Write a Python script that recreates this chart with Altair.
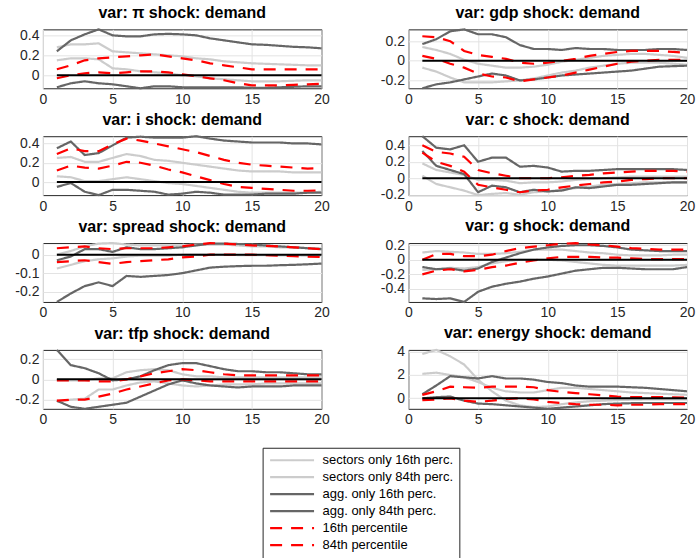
import altair as alt
import pandas as pd

x_vals = list(range(1, 21))

series_names = [
    "sectors only 16th perc.",
    "sectors only 84th perc.",
    "agg. only 16th perc.",
    "agg. only 84th perc.",
    "16th percentile",
    "84th percentile",
]
series_colors = ["#cccccc", "#cccccc", "#666666", "#666666", "#ff0000", "#ff0000"]
series_dash = [[1, 0], [1, 0], [1, 0], [1, 0], [12, 9], [12, 9]]
series_width = [2.2, 2.2, 2.2, 2.2, 2.6, 2.6]

titles = [
    "var: π shock: demand",
    "var: gdp shock: demand",
    "var: i shock: demand",
    "var: c shock: demand",
    "var: spread shock: demand",
    "var: g shock: demand",
    "var: tfp shock: demand",
    "var: energy shock: demand",
]
x_ticks = [0, 5, 10, 15, 20]
y_ticks = [
    [0, 0.2, 0.4],
    [-0.2, 0, 0.2],
    [0, 0.2, 0.4],
    [-0.2, 0, 0.2, 0.4],
    [-0.2, -0.1, 0],
    [-0.4, -0.2, 0, 0.2],
    [-0.2, 0, 0.2],
    [0, 2, 4],
]

# ---- pi ----
pi_sec16 = [0.15, 0.17, 0.17, 0.16, 0.07, 0.06, 0.04, 0.03, 0.02, 0.00, -0.01, -0.03, -0.04, -0.05, -0.06, -0.06, -0.06, -0.055, -0.05, -0.05]
pi_sec84 = [0.28, 0.31, 0.31, 0.32, 0.24, 0.23, 0.22, 0.21, 0.20, 0.19, 0.17, 0.16, 0.14, 0.13, 0.12, 0.115, 0.11, 0.105, 0.10, 0.10]
pi_agg16 = [-0.12, -0.08, -0.06, -0.08, -0.09, -0.11, -0.13, -0.11, -0.11, -0.12, -0.12, -0.12, -0.12, -0.12, -0.125, -0.125, -0.12, -0.115, -0.11, -0.11]
pi_agg84 = [0.24, 0.35, 0.41, 0.46, 0.40, 0.39, 0.39, 0.41, 0.415, 0.41, 0.40, 0.37, 0.35, 0.33, 0.31, 0.305, 0.295, 0.285, 0.28, 0.27]
pi_p16 = [-0.03, 0.00, 0.02, 0.03, 0.02, 0.03, 0.04, 0.04, 0.03, 0.01, -0.01, -0.03, -0.05, -0.08, -0.10, -0.10, -0.10, -0.095, -0.09, -0.085]
pi_p84 = [0.06, 0.10, 0.15, 0.17, 0.18, 0.19, 0.20, 0.21, 0.19, 0.17, 0.15, 0.12, 0.10, 0.08, 0.06, 0.06, 0.06, 0.06, 0.06, 0.06]

# ---- gdp ----
gdp_sec16 = [-0.07, -0.11, -0.17, -0.22, -0.22, -0.22, -0.21, -0.20, -0.18, -0.15, -0.12, -0.10, -0.07, -0.05, -0.03, -0.02, -0.02, -0.02, -0.03, -0.04]
gdp_sec84 = [0.14, 0.11, 0.07, 0.01, -0.03, -0.05, -0.07, -0.07, -0.06, -0.04, -0.01, 0.01, 0.03, 0.05, 0.06, 0.07, 0.07, 0.06, 0.05, 0.03]
gdp_agg16 = [-0.28, -0.24, -0.22, -0.19, -0.16, -0.13, -0.15, -0.20, -0.19, -0.17, -0.15, -0.14, -0.13, -0.12, -0.11, -0.10, -0.08, -0.06, -0.055, -0.05]
gdp_agg84 = [0.17, 0.22, 0.30, 0.32, 0.27, 0.27, 0.24, 0.16, 0.12, 0.12, 0.11, 0.13, 0.12, 0.12, 0.11, 0.11, 0.11, 0.12, 0.12, 0.11]
gdp_p16 = [0.05, 0.02, -0.03, -0.07, -0.13, -0.16, -0.17, -0.21, -0.19, -0.17, -0.15, -0.12, -0.09, -0.06, -0.03, -0.01, 0.00, 0.01, 0.01, 0.01]
gdp_p84 = [0.25, 0.24, 0.20, 0.10, 0.06, 0.04, 0.02, -0.02, -0.03, -0.02, 0.00, 0.02, 0.05, 0.07, 0.09, 0.10, 0.10, 0.10, 0.09, 0.08]

# ---- i ----
i_sec16 = [0.06, 0.05, 0.01, 0.01, 0.03, 0.05, 0.03, 0.01, -0.01, -0.02, -0.04, -0.06, -0.08, -0.10, -0.11, -0.11, -0.11, -0.11, -0.11, -0.10]
i_sec84 = [0.25, 0.26, 0.21, 0.21, 0.25, 0.29, 0.27, 0.23, 0.22, 0.20, 0.18, 0.16, 0.14, 0.12, 0.11, 0.11, 0.11, 0.10, 0.10, 0.10]
i_agg16 = [-0.05, -0.01, -0.10, -0.135, -0.08, -0.08, -0.09, -0.10, -0.13, -0.12, -0.10, -0.11, -0.13, -0.13, -0.13, -0.12, -0.12, -0.12, -0.11, -0.11]
i_agg84 = [0.35, 0.42, 0.28, 0.30, 0.38, 0.46, 0.47, 0.46, 0.46, 0.46, 0.475, 0.45, 0.43, 0.42, 0.41, 0.41, 0.41, 0.40, 0.40, 0.39]
i_p16 = [0.12, 0.17, 0.15, 0.14, 0.17, 0.21, 0.20, 0.17, 0.13, 0.10, 0.06, 0.02, -0.02, -0.05, -0.06, -0.07, -0.08, -0.09, -0.09, -0.085]
i_p84 = [0.29, 0.35, 0.32, 0.32, 0.39, 0.45, 0.43, 0.40, 0.37, 0.34, 0.31, 0.27, 0.23, 0.20, 0.18, 0.17, 0.16, 0.15, 0.14, 0.145]

# ---- c ----
c_sec16 = [0.03, -0.07, -0.11, -0.15, -0.205, -0.19, -0.18, -0.20, -0.17, -0.16, -0.14, -0.12, -0.10, -0.08, -0.07, -0.06, -0.05, -0.05, -0.05, -0.05]
c_sec84 = [0.18, 0.10, 0.07, 0.04, -0.02, -0.02, -0.03, -0.06, -0.05, -0.05, -0.04, -0.02, -0.01, 0.00, 0.01, 0.02, 0.02, 0.02, 0.02, 0.02]
c_agg16 = [0.33, 0.15, 0.10, 0.05, -0.17, -0.09, -0.11, -0.17, -0.14, -0.16, -0.15, -0.11, -0.12, -0.10, -0.08, -0.08, -0.07, -0.06, -0.05, -0.05]
c_agg84 = [0.51, 0.37, 0.35, 0.40, 0.20, 0.25, 0.25, 0.14, 0.15, 0.13, 0.08, 0.09, 0.09, 0.10, 0.11, 0.11, 0.11, 0.11, 0.11, 0.10]
c_p16 = [0.31, 0.20, 0.15, 0.08, -0.08, -0.11, -0.14, -0.17, -0.15, -0.14, -0.11, -0.09, -0.07, -0.05, -0.04, -0.02, -0.01, 0.00, 0.00, 0.00]
c_p84 = [0.40, 0.32, 0.30, 0.26, 0.10, 0.06, 0.03, 0.00, 0.00, 0.00, 0.01, 0.03, 0.04, 0.06, 0.07, 0.08, 0.09, 0.09, 0.09, 0.08]

# ---- spread ----
sp_sec16 = [-0.075, -0.055, -0.035, -0.025, -0.02, -0.01, -0.005, -0.005, -0.005, 0.0, 0.0, 0.0, 0.0, -0.002, -0.003, -0.003, -0.004, -0.004, -0.005, -0.005]
sp_sec84 = [0.0, 0.02, 0.045, 0.06, 0.063, 0.055, 0.05, 0.05, 0.05, 0.05, 0.055, 0.055, 0.055, 0.05, 0.045, 0.045, 0.04, 0.04, 0.035, 0.035]
sp_agg16 = [-0.256, -0.21, -0.17, -0.15, -0.17, -0.115, -0.12, -0.115, -0.11, -0.10, -0.085, -0.07, -0.065, -0.062, -0.06, -0.06, -0.057, -0.055, -0.052, -0.048]
sp_agg84 = [-0.03, -0.01, 0.03, 0.03, 0.015, 0.04, 0.03, 0.03, 0.035, 0.04, 0.05, 0.06, 0.06, 0.058, 0.055, 0.05, 0.045, 0.04, 0.035, 0.03]
sp_p16 = [-0.04, -0.035, -0.03, -0.04, -0.05, -0.04, -0.035, -0.03, -0.025, -0.015, -0.01, 0.0, 0.0, 0.0, 0.0, -0.003, -0.005, -0.008, -0.01, -0.013]
sp_p84 = [0.035, 0.04, 0.045, 0.035, 0.03, 0.035, 0.035, 0.035, 0.04, 0.045, 0.055, 0.063, 0.06, 0.055, 0.05, 0.048, 0.045, 0.04, 0.035, 0.03]

# ---- g ----
g_sec16 = [-0.14, -0.13, -0.11, -0.12, -0.10, -0.05, -0.02, 0.00, 0.00, 0.00, -0.01, -0.03, -0.05, -0.07, -0.08, -0.08, -0.08, -0.08, -0.08, -0.07]
g_sec84 = [0.10, 0.12, 0.11, 0.10, 0.08, 0.08, 0.09, 0.11, 0.14, 0.14, 0.14, 0.12, 0.10, 0.09, 0.07, 0.06, 0.06, 0.06, 0.07, 0.07]
g_agg16 = [-0.53, -0.54, -0.53, -0.58, -0.44, -0.37, -0.33, -0.30, -0.26, -0.23, -0.19, -0.15, -0.13, -0.11, -0.11, -0.12, -0.13, -0.13, -0.13, -0.10]
g_agg84 = [-0.10, -0.13, -0.12, -0.15, -0.12, -0.03, 0.03, 0.09, 0.14, 0.17, 0.19, 0.20, 0.20, 0.19, 0.17, 0.14, 0.13, 0.12, 0.12, 0.12]
g_p16 = [-0.20, -0.15, -0.13, -0.16, -0.14, -0.10, -0.08, -0.04, -0.01, 0.02, 0.04, 0.04, 0.04, 0.03, 0.03, 0.02, 0.01, 0.01, 0.01, 0.01]
g_p84 = [0.00, 0.08, 0.08, 0.05, 0.05, 0.07, 0.12, 0.16, 0.18, 0.20, 0.22, 0.23, 0.21, 0.20, 0.18, 0.16, 0.15, 0.14, 0.14, 0.14]

# ---- tfp ----
tfp_sec16 = [-0.22, -0.20, -0.19, -0.10, -0.10, -0.06, -0.03, -0.02, -0.04, -0.06, -0.07, -0.06, -0.05, -0.05, -0.05, -0.04, -0.04, -0.04, -0.04, -0.04]
tfp_sec84 = [-0.01, -0.01, -0.01, 0.01, 0.01, 0.07, 0.09, 0.10, 0.09, 0.05, 0.03, 0.03, 0.02, 0.02, 0.02, 0.02, 0.02, 0.02, 0.02, 0.02]
tfp_agg16 = [-0.21, -0.27, -0.29, -0.27, -0.25, -0.23, -0.17, -0.11, -0.05, -0.01, -0.04, -0.06, -0.07, -0.08, -0.07, -0.07, -0.07, -0.06, -0.06, -0.06]
tfp_agg84 = [0.29, 0.14, 0.11, 0.06, -0.01, 0.00, 0.03, 0.09, 0.14, 0.16, 0.16, 0.13, 0.10, 0.08, 0.08, 0.07, 0.07, 0.06, 0.05, 0.05]
tfp_p16 = [-0.21, -0.20, -0.20, -0.17, -0.14, -0.10, -0.07, -0.04, -0.01, 0.00, -0.01, -0.02, -0.02, -0.02, -0.02, -0.02, -0.02, -0.02, -0.02, -0.02]
tfp_p84 = [-0.01, -0.01, -0.01, -0.02, -0.02, 0.00, 0.03, 0.06, 0.08, 0.10, 0.09, 0.07, 0.05, 0.04, 0.04, 0.04, 0.04, 0.04, 0.04, 0.04]

# ---- energy ----
en_sec16 = [3.8, 4.15, 3.6, 2.9, 1.6, 0.6, -0.2, -0.6, -0.75, -0.7, -0.5, -0.35, -0.25, -0.2, -0.15, -0.12, -0.1, -0.1, -0.1, -0.1]
en_sec84 = [2.1, 2.2, 2.0, 1.8, 1.4, 0.9, 0.6, 0.5, 0.5, 0.7, 0.9, 0.9, 0.8, 0.7, 0.6, 0.5, 0.45, 0.4, 0.35, 0.3]
en_agg16 = [0.0, 0.1, 0.15, -0.2, -0.45, -0.5, -0.6, -0.7, -0.8, -0.9, -0.8, -0.7, -0.6, -0.5, -0.45, -0.42, -0.4, -0.4, -0.4, -0.4]
en_agg84 = [0.35, 1.1, 1.9, 1.8, 1.7, 1.9, 1.7, 1.7, 1.6, 1.4, 1.3, 1.1, 1.0, 1.0, 1.0, 0.95, 0.9, 0.8, 0.7, 0.6]
en_p16 = [-0.15, -0.1, 0.0, -0.2, -0.3, -0.2, -0.05, 0.0, -0.1, -0.3, -0.4, -0.5, -0.55, -0.55, -0.6, -0.55, -0.55, -0.5, -0.5, -0.5]
en_p84 = [0.3, 0.6, 1.0, 0.95, 0.9, 1.0, 1.0, 1.0, 0.95, 0.7, 0.55, 0.45, 0.35, 0.25, 0.15, 0.1, 0.1, 0.1, 0.08, 0.05]

panel_series = [
    [pi_sec16, pi_sec84, pi_agg16, pi_agg84, pi_p16, pi_p84],
    [gdp_sec16, gdp_sec84, gdp_agg16, gdp_agg84, gdp_p16, gdp_p84],
    [i_sec16, i_sec84, i_agg16, i_agg84, i_p16, i_p84],
    [c_sec16, c_sec84, c_agg16, c_agg84, c_p16, c_p84],
    [sp_sec16, sp_sec84, sp_agg16, sp_agg84, sp_p16, sp_p84],
    [g_sec16, g_sec84, g_agg16, g_agg84, g_p16, g_p84],
    [tfp_sec16, tfp_sec84, tfp_agg16, tfp_agg84, tfp_p16, tfp_p84],
    [en_sec16, en_sec84, en_agg16, en_agg84, en_p16, en_p84],
]

FONT = "Liberation Sans"
PW, PH = 279, 59

legend = alt.Legend(
    title=None,
    orient="none",
    legendX=220,
    legendY=419,
    symbolType="M-2.5,0H19.5",
    symbolSize=16,
    labelFontSize=13,
    labelFont=FONT,
    labelColor="black",
    labelOffset=41,
    labelLimit=300,
    strokeColor="#262626",
    fillColor="white",
    padding=6,
    rowPadding=3,
)

panels = []
for k, (title, arrs) in enumerate(zip(titles, panel_series)):
    rows = []
    for order, (name, arr) in enumerate(zip(series_names, arrs)):
        for xv, yv in zip(x_vals, arr):
            rows.append({"x": xv, "y": yv, "series": name, "o": order})
    df = pd.DataFrame(rows)
    ymin, ymax = float(df.y.min()), float(df.y.max())
    x_axis = alt.Axis(values=x_ticks, title=None, labelExpr="'' + datum.value",
                      labelOverlap=False, labelFlush=False)
    y_axis = alt.Axis(values=y_ticks[k], title=None, labelExpr="'' + datum.value",
                      labelOverlap=False, labelFlush=False, labelBound=False)
    x_scale = alt.Scale(domain=[0, 20], nice=False)
    y_scale = alt.Scale(domain=[ymin, ymax], nice=False, zero=False)
    lines = alt.Chart(df).mark_line().encode(
        x=alt.X("x:Q", scale=x_scale, axis=x_axis),
        y=alt.Y("y:Q", scale=y_scale, axis=y_axis),
        color=alt.Color("series:N", scale=alt.Scale(domain=series_names, range=series_colors), legend=legend),
        strokeDash=alt.StrokeDash("series:N", scale=alt.Scale(domain=series_names, range=series_dash), legend=legend),
        strokeWidth=alt.StrokeWidth("series:N", scale=alt.Scale(domain=series_names, range=series_width), legend=legend),
        detail="o:O",
    )
    zero = alt.Chart(pd.DataFrame({"x": [1], "x2": [20], "y": [0]})).mark_rule(color="black", strokeWidth=2).encode(
        x=alt.X("x:Q", scale=x_scale, axis=x_axis), x2="x2:Q", y=alt.Y("y:Q", scale=y_scale, axis=y_axis)
    )
    panels.append(alt.layer(lines, zero).properties(width=PW, height=PH, title=title))

chart = alt.concat(*panels, columns=2, spacing={"row": 48, "column": 87}, bounds="flush").resolve_scale(
    x="independent", y="independent", color="shared", strokeDash="shared", strokeWidth="shared"
).properties(
    padding={"left": 14, "top": 4, "right": 0, "bottom": 0}
).configure(
    font=FONT,
).configure_view(
    stroke="#262626", strokeWidth=1
).configure_axis(
    labelFont=FONT, labelFontSize=14, labelColor="#262626", ticks=False, domain=False,
    grid=True, gridColor="#e3e3e3", gridWidth=1, labelPadding=4,
).configure_title(
    font=FONT, fontSize=16, fontWeight="bold", color="black", offset=4
)

chart.save("out.html", embed_options={"renderer": "svg", "actions": False})
